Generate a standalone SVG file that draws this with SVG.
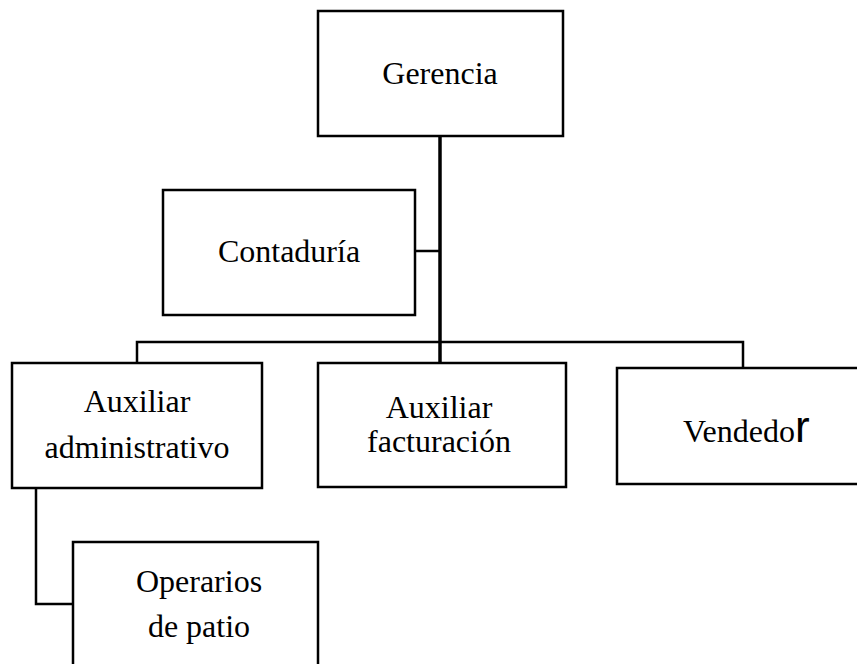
<svg xmlns="http://www.w3.org/2000/svg" width="857" height="664" viewBox="0 0 857 664">
<style>
.box{fill:#fff;stroke:#000;stroke-width:2.5}
.con{fill:none;stroke:#000;stroke-width:2.5}
.t{font-family:"Liberation Serif","Times New Roman",serif;font-size:32px;fill:#000;text-anchor:middle}
</style>
<rect width="857" height="664" fill="#fff"/>
<g id="connectors">
<line class="con" x1="440" y1="136" x2="440" y2="363" style="stroke-width:3.5"/>
<line class="con" x1="415" y1="251" x2="440" y2="251"/>
<polyline class="con" points="137,363 137,342 743,342 743,368"/>
<polyline class="con" points="36,488 36,604 73,604"/>
</g>
<g id="gerencia"><rect class="box" x="318" y="11" width="245" height="125"/><text class="t" x="440" y="84">Gerencia</text></g>
<g id="contaduria"><rect class="box" x="163" y="190" width="252" height="125"/><text class="t" x="289" y="262">Contaduría</text></g>
<g id="aux-admin"><rect class="box" x="12" y="363" width="250" height="125"/><text class="t" x="137" y="412">Auxiliar</text><text class="t" x="137" y="458">administrativo</text></g>
<g id="aux-fact"><rect class="box" x="318" y="363" width="248" height="124"/><text class="t" x="439" y="418">Auxiliar</text><text class="t" x="439" y="452">facturación</text></g>
<g id="vendedor"><rect class="box" x="617" y="368" width="260" height="116"/><text class="t" x="683" y="442" style="text-anchor:start">Vendedo<tspan style="font-family:'Liberation Sans',Arial,sans-serif;font-size:44px">r</tspan></text></g>
<g id="operarios"><rect class="box" x="73" y="542" width="245" height="140"/><text class="t" x="199" y="592">Operarios</text><text class="t" x="199" y="637">de patio</text></g>
</svg>
